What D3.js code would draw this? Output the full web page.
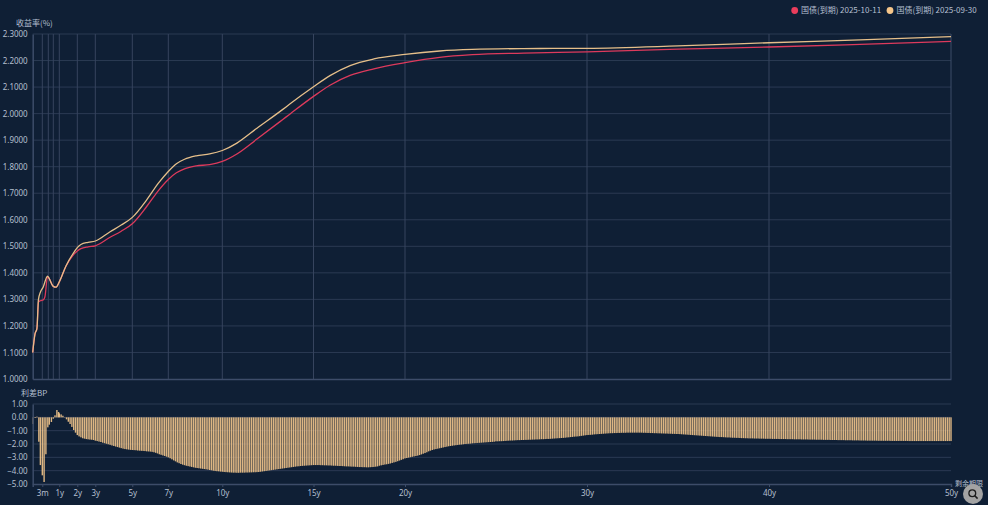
<!DOCTYPE html>
<html>
<head>
<meta charset="utf-8">
<script src="https://cdn.jsdelivr.net/npm/d3@7"></script>
<style>
  html, body { margin: 0; padding: 0; background: #0f1f35; overflow: hidden; }
  text { font-family: "Noto Sans CJK SC", "Noto Sans", sans-serif; }
</style>
</head>
<body>
<script>
// tick terms on the remaining maturity axis
const tickTerms = [0.25, 1, 2, 3, 5, 7, 10, 15, 20, 30, 40, 50];
const tickLabels = ["3m", "1y", "2y", "3y", "5y", "7y", "10y", "15y", "20y", "30y", "40y", "50y"];
const gridTerms = [0.25, 0.5, 0.75, 1, 2, 3, 5, 7, 10, 15, 20, 30, 40, 50];

const yieldTicks = [1.0, 1.1, 1.2, 1.3, 1.4, 1.5, 1.6, 1.7, 1.8, 1.9, 2.0, 2.1, 2.2, 2.3];
const spreadTicks = [1, 0, -1, -2, -3, -4, -5];

// curve 2025-09-30
const termsA = [0, 0.06, 0.11, 0.15, 0.2, 0.29, 0.467, 0.535, 0.735, 0.86, 1, 1.37, 1.75, 2, 2.2, 2.6, 3, 3.8, 4.4, 5, 5.8, 6.45, 7, 7.45, 7.9, 8.55, 9.3, 10, 10.8, 11.9, 13.3, 13.7, 15, 15.9, 17, 18.3, 20, 21.9, 23.7, 26.5, 30, 35, 40, 45, 50];
const yieldsA = [1.1, 1.17, 1.19, 1.3, 1.327, 1.347, 1.388, 1.38, 1.35, 1.346, 1.366, 1.426, 1.471, 1.495, 1.507, 1.515, 1.52, 1.555, 1.58, 1.609, 1.675, 1.738, 1.782, 1.811, 1.828, 1.841, 1.848, 1.861, 1.889, 1.945, 2.015, 2.036, 2.101, 2.143, 2.181, 2.206, 2.223, 2.236, 2.242, 2.245, 2.246, 2.255, 2.267, 2.278, 2.29];

// curve 2025-10-11
const termsB = [0, 0.06, 0.11, 0.15, 0.2, 0.29, 0.36, 0.467, 0.535, 0.735, 0.86, 1, 1.37, 1.75, 2, 2.2, 2.6, 3, 3.8, 4.4, 5, 5.8, 6.45, 7, 7.45, 7.9, 8.55, 9.3, 10, 10.8, 11.9, 13.3, 13.7, 15, 15.9, 17, 18.3, 20, 21.9, 23.7, 26.5, 30, 35, 40, 45, 50];
const yieldsB = [1.1, 1.17, 1.19, 1.29, 1.295, 1.298, 1.31, 1.385, 1.38, 1.35, 1.346, 1.366, 1.425, 1.465, 1.482, 1.491, 1.498, 1.502, 1.534, 1.557, 1.585, 1.65, 1.71, 1.752, 1.777, 1.792, 1.803, 1.808, 1.82, 1.848, 1.904, 1.977, 1.998, 2.065, 2.107, 2.144, 2.169, 2.192, 2.212, 2.222, 2.228, 2.233, 2.243, 2.251, 2.261, 2.272];

// spread bars, short end first then one bar per 0.1y from 1y
const shortTerms = [0.015, 0.065, 0.11, 0.16, 0.2, 0.25, 0.325, 0.4, 0.48, 0.55, 0.655, 0.75, 0.82, 0.9, 0.97];
const shortSpread = [-0.5, -0.05, 0.05, -1.83, -3.58, -4.35, -4.85, -2.77, -0.75, -0.55, -0.35, -0.1, 0.15, 0.55, 0.4];
const longSpread = [
  0.30, 0.22, 0.12, -0.02, -0.15, -0.33, -0.50, -0.72, -0.95, -1.15,
  -1.33, -1.43, -1.50, -1.57, -1.60, -1.63, -1.65, -1.67, -1.68, -1.70,
  -1.75, -1.78, -1.82, -1.85, -1.90, -1.94, -1.98, -2.02, -2.06, -2.11,
  -2.15, -2.19, -2.23, -2.27, -2.31, -2.35, -2.38, -2.40, -2.42, -2.44,
  -2.45, -2.46, -2.47, -2.49, -2.50, -2.51, -2.52, -2.53, -2.55, -2.56,
  -2.57, -2.59, -2.62, -2.66, -2.71, -2.77, -2.81, -2.86, -2.90, -2.95,
  -3.00, -3.07, -3.15, -3.23, -3.30, -3.38, -3.44, -3.50, -3.55, -3.59,
  -3.63, -3.66, -3.69, -3.72, -3.75, -3.78, -3.80, -3.82, -3.84, -3.86,
  -3.88, -3.90, -3.92, -3.95, -3.97, -4.00, -4.02, -4.04, -4.05, -4.07,
  -4.08, -4.10, -4.11, -4.12, -4.13, -4.14, -4.15, -4.15, -4.16, -4.16,
  -4.15, -4.15, -4.15, -4.14, -4.14, -4.13, -4.13, -4.12, -4.12, -4.11,
  -4.10, -4.08, -4.06, -4.04, -4.02, -4.00, -3.98, -3.96, -3.94, -3.92,
  -3.90, -3.88, -3.86, -3.84, -3.82, -3.80, -3.78, -3.76, -3.74, -3.72,
  -3.70, -3.68, -3.67, -3.65, -3.64, -3.63, -3.62, -3.61, -3.60, -3.59,
  -3.58, -3.58, -3.58, -3.58, -3.59, -3.59, -3.60, -3.60, -3.61, -3.61,
  -3.62, -3.63, -3.63, -3.64, -3.65, -3.65, -3.66, -3.67, -3.68, -3.68,
  -3.69, -3.70, -3.70, -3.71, -3.72, -3.73, -3.73, -3.74, -3.74, -3.75,
  -3.75, -3.74, -3.73, -3.72, -3.70, -3.68, -3.63, -3.60, -3.57, -3.54,
  -3.52, -3.49, -3.46, -3.42, -3.38, -3.34, -3.29, -3.24, -3.19, -3.14,
  -3.08, -3.05, -3.02, -2.99, -2.96, -2.93, -2.90, -2.87, -2.83, -2.78,
  -2.73, -2.68, -2.62, -2.55, -2.50, -2.45, -2.41, -2.38, -2.35, -2.32,
  -2.29, -2.26, -2.23, -2.20, -2.17, -2.15, -2.13, -2.11, -2.09, -2.07,
  -2.05, -2.04, -2.02, -2.00, -1.99, -1.98, -1.97, -1.95, -1.94, -1.93,
  -1.92, -1.91, -1.90, -1.89, -1.88, -1.87, -1.86, -1.85, -1.84, -1.83,
  -1.80, -1.80, -1.79, -1.79, -1.78, -1.77, -1.76, -1.75, -1.74, -1.74,
  -1.73, -1.72, -1.71, -1.71, -1.70, -1.70, -1.69, -1.69, -1.68, -1.68,
  -1.67, -1.67, -1.66, -1.66, -1.65, -1.64, -1.64, -1.63, -1.62, -1.62,
  -1.61, -1.60, -1.59, -1.58, -1.57, -1.56, -1.55, -1.54, -1.53, -1.51,
  -1.50, -1.48, -1.47, -1.45, -1.44, -1.43, -1.41, -1.39, -1.37, -1.35,
  -1.33, -1.32, -1.31, -1.30, -1.28, -1.27, -1.26, -1.25, -1.24, -1.23,
  -1.22, -1.21, -1.20, -1.19, -1.19, -1.18, -1.18, -1.17, -1.17, -1.16,
  -1.16, -1.16, -1.15, -1.15, -1.15, -1.15, -1.15, -1.15, -1.15, -1.15,
  -1.15, -1.16, -1.16, -1.17, -1.17, -1.18, -1.18, -1.19, -1.19, -1.20,
  -1.20, -1.21, -1.21, -1.22, -1.22, -1.23, -1.23, -1.24, -1.24, -1.25,
  -1.25, -1.26, -1.27, -1.28, -1.29, -1.30, -1.31, -1.32, -1.33, -1.34,
  -1.35, -1.36, -1.37, -1.38, -1.39, -1.40, -1.41, -1.42, -1.43, -1.44,
  -1.45, -1.46, -1.47, -1.48, -1.48, -1.49, -1.50, -1.51, -1.51, -1.52,
  -1.53, -1.53, -1.54, -1.54, -1.55, -1.56, -1.56, -1.57, -1.57, -1.58,
  -1.58, -1.58, -1.59, -1.59, -1.59, -1.60, -1.60, -1.60, -1.61, -1.61,
  -1.61, -1.61, -1.62, -1.62, -1.62, -1.62, -1.63, -1.63, -1.63, -1.63,
  -1.64, -1.64, -1.64, -1.64, -1.65, -1.65, -1.65, -1.65, -1.66, -1.66,
  -1.66, -1.66, -1.67, -1.67, -1.67, -1.67, -1.68, -1.68, -1.68, -1.68,
  -1.69, -1.69, -1.69, -1.69, -1.70, -1.70, -1.70, -1.70, -1.71, -1.71,
  -1.71, -1.71, -1.72, -1.72, -1.72, -1.72, -1.73, -1.73, -1.73, -1.73,
  -1.74, -1.74, -1.74, -1.74, -1.75, -1.75, -1.75, -1.75, -1.75, -1.75,
  -1.76, -1.76, -1.76, -1.76, -1.76, -1.76, -1.76, -1.77, -1.77, -1.77,
  -1.77, -1.77, -1.77, -1.77, -1.77, -1.77, -1.77, -1.78, -1.78, -1.78,
  -1.78, -1.78, -1.78, -1.78, -1.78, -1.78, -1.78, -1.78, -1.78, -1.78,
  -1.78, -1.78, -1.78, -1.78, -1.78, -1.78, -1.78, -1.78, -1.78, -1.78,
  -1.78
];

const legendNames = ["国债(到期)", "国债(到期)"];
const legendDates = ["2025-10-11", "2025-09-30"];
const colors = { red: "#dd3a5c", tan: "#e6bf8a", bar: "#f4c78c", dotRed: "#ea3d5c", dotTan: "#f6c68a",
  grid: "#2b3a53", axis: "#3d4c69", text: "#b4bfd0" };

const svg = d3.select("body").append("svg").attr("width", 988).attr("height", 505);

// maturities are spaced as on the original axis, the short end is stretched
const x = d3.scaleLinear()
  .domain([0, 0.25, 0.5, 0.75, 1, 2, 3, 5, 7, 10, 15, 20, 30, 40, 50])
  .range([32.7, 42.3, 48.3, 53.3, 59.3, 77.3, 95.3, 132.3, 168.3, 222.3, 313.5, 405, 587, 769, 951]);
const yTop = d3.scaleLinear().domain([1, 2.3]).range([379, 34]);
const yLow = d3.scaleLinear().domain([-5, 1]).range([484, 404]);

function cleanAxis(g) {
  g.select(".domain").attr("stroke", colors.axis).attr("stroke-width", 1.5);
  g.selectAll(".tick line").attr("stroke", colors.axis);
  g.selectAll(".tick text").attr("fill", colors.text).style("font-size", "8px").style("font-family", '"Noto Sans", sans-serif');
}

// grid, top chart
svg.append("g").selectAll("line").data(yieldTicks.slice(1)).enter().append("line")
  .attr("x1", x(0)).attr("x2", x(50))
  .attr("y1", d => yTop(d)).attr("y2", d => yTop(d))
  .attr("stroke", colors.grid);
svg.append("g").selectAll("line").data(gridTerms).enter().append("line")
  .attr("x1", d => x(d)).attr("x2", d => x(d))
  .attr("y1", yTop(2.3)).attr("y2", yTop(1))
  .attr("stroke", d => d == 50 ? colors.axis : "#36445e");

// grid, spread chart
svg.append("g").selectAll("line").data(spreadTicks.filter(d => d != -5)).enter().append("line")
  .attr("x1", x(0)).attr("x2", x(50))
  .attr("y1", d => yLow(d)).attr("y2", d => yLow(d))
  .attr("stroke", colors.grid);

// spread bars
const spreadTerms = shortTerms.concat(longSpread.map((d, i) => 1 + i / 10));
const spreadValues = shortSpread.concat(longSpread);
svg.append("g").selectAll("rect").data(spreadValues).enter().append("rect")
  .attr("x", (d, i) => x(spreadTerms[i]) - 0.7)
  .attr("width", 1.4)
  .attr("y", d => yLow(Math.max(d, 0)))
  .attr("height", d => Math.abs(yLow(d) - yLow(0)))
  .attr("fill", colors.bar)
  .attr("opacity", 0.9);

// axes
svg.append("g").attr("transform", "translate(" + x(0) + ",0)")
  .call(d3.axisLeft(yTop).tickValues(yieldTicks).tickSize(0).tickPadding(5).tickFormat(d3.format(".4f")))
  .call(cleanAxis);
svg.append("g").attr("transform", "translate(0," + yTop(1) + ")")
  .call(d3.axisBottom(x).tickValues([]).tickSize(0))
  .call(cleanAxis);
svg.append("g").attr("transform", "translate(" + x(0) + ",0)")
  .call(d3.axisLeft(yLow).tickValues(spreadTicks).tickSize(0).tickPadding(5).tickFormat(d3.format(".2f")))
  .call(cleanAxis);
svg.append("g").attr("transform", "translate(0," + yLow(-5) + ")")
  .call(d3.axisBottom(x).tickValues(tickTerms).tickSize(3).tickPadding(3).tickFormat((d, i) => tickLabels[i]))
  .call(cleanAxis);

// curves
const termsByLine = { red: termsB, tan: termsA };
[["red", yieldsB], ["tan", yieldsA]].forEach(function(s) {
  const terms = termsByLine[s[0]];
  const line = d3.line()
    .x((d, i) => x(terms[i]))
    .y(d => yTop(d))
    .curve(d3.curveMonotoneX);
  svg.append("path").datum(s[1])
    .attr("d", line)
    .attr("fill", "none")
    .attr("stroke", colors[s[0]])
    .attr("stroke-width", 1.3);
});

// titles
function label(px, py, str, size) {
  return svg.append("text").attr("x", px).attr("y", py).attr("fill", colors.text)
    .style("font-size", (size || 8) + "px").text(str);
}
label(16, 26, "收益率(%)");
label(21, 396, "利差BP");
label(955, 486, "剩余期限", 7);

// legend
[[794.7, 801, 840, 0, colors.dotRed], [890, 896.5, 935.5, 1, colors.dotTan]].forEach(function(l) {
  svg.append("circle").attr("cx", l[0]).attr("cy", 10.5).attr("r", 3.4).attr("fill", l[4]);
  label(l[1], 13, legendNames[l[3]]);
  label(l[2], 13, legendDates[l[3]]);
});

// zoom button
const btn = svg.append("g").attr("transform", "translate(973,494)");
btn.append("circle").attr("r", 10).attr("fill", "#a3a3a3");
btn.append("circle").attr("cx", -0.7).attr("cy", -0.7).attr("r", 3.4).attr("fill", "none").attr("stroke", "#1b1b1b").attr("stroke-width", 1.3);
btn.append("line").attr("x1", 1.8).attr("y1", 1.8).attr("x2", 4.6).attr("y2", 4.6).attr("stroke", "#1b1b1b").attr("stroke-width", 1.5);
</script>
</body>
</html>
